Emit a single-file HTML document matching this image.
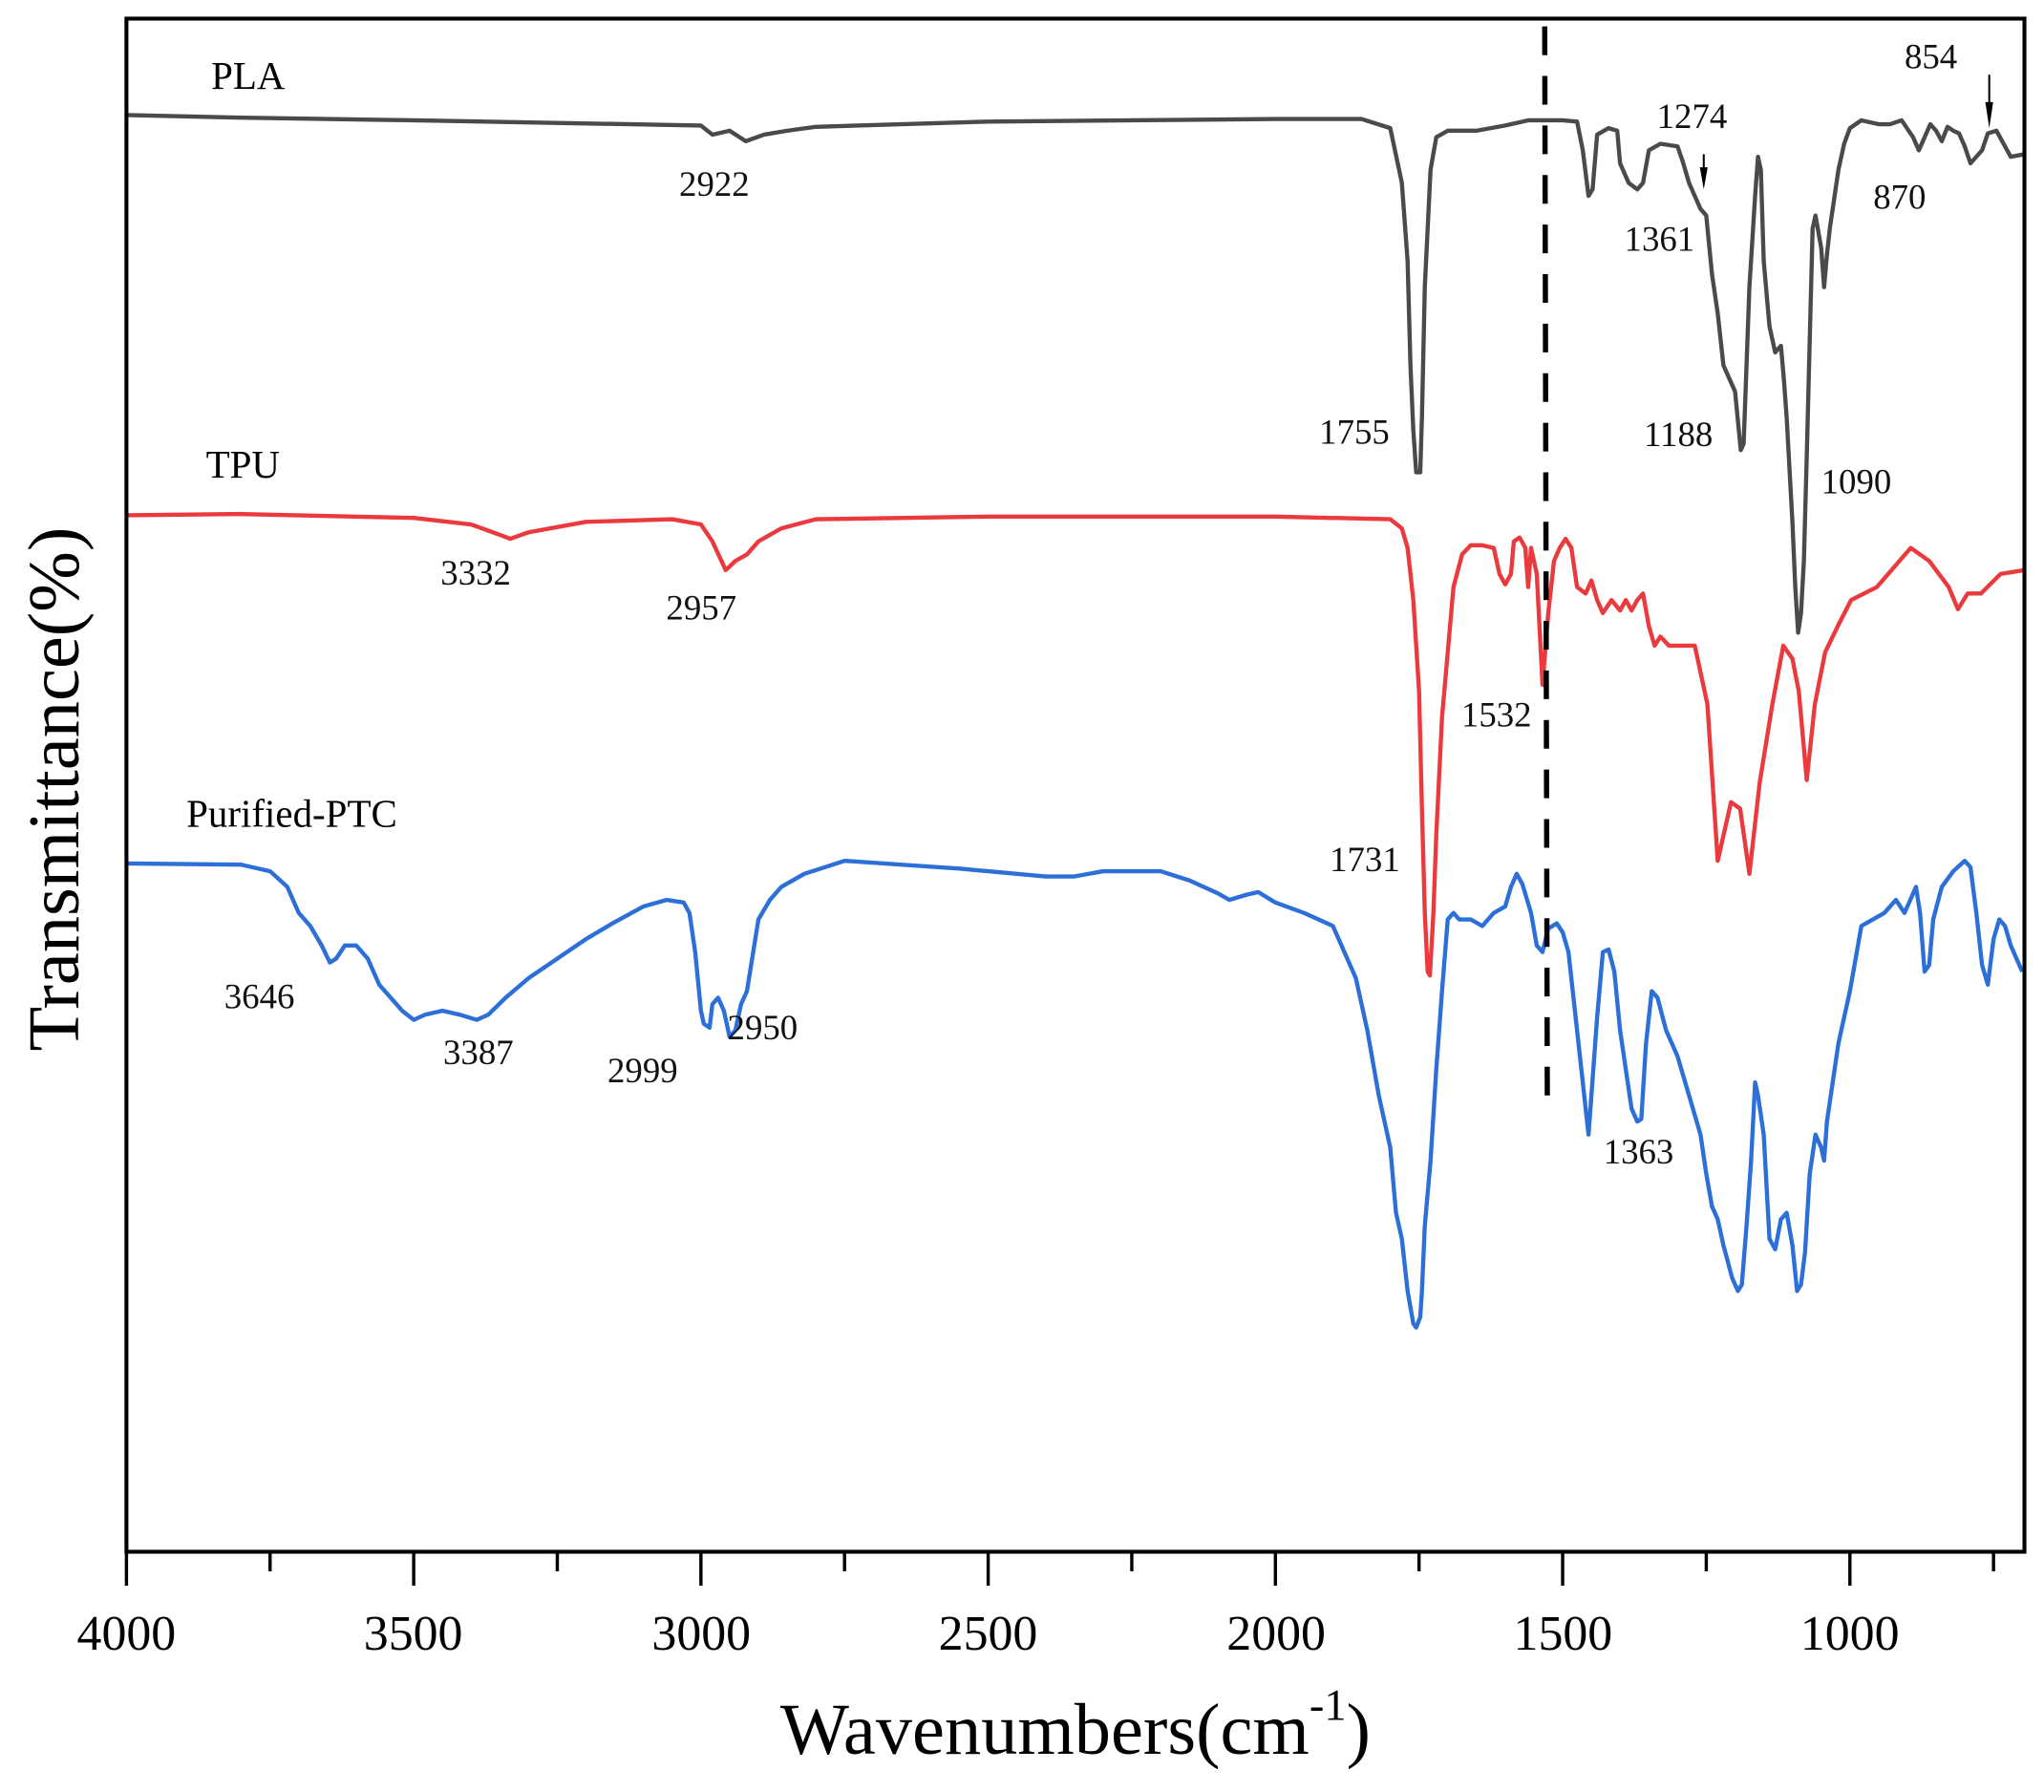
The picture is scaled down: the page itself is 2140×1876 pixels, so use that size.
<!DOCTYPE html>
<html><head><meta charset="utf-8"><style>html,body{margin:0;padding:0;background:#fff}svg{display:block}</style></head>
<body>
<svg id="s" width="2140" height="1876" viewBox="0 0 1568 1374" xmlns="http://www.w3.org/2000/svg" font-family="Liberation Serif, serif">
<rect x="0" y="0" width="1568" height="1374" fill="#fff"/>
<g id="curves" fill="none" stroke-width="3.2" stroke-linejoin="round"></g>
<line x1="1185" y1="20" x2="1187" y2="855" stroke="#000" stroke-width="4" stroke-dasharray="22,16"/>
<rect x="97" y="14" width="1456" height="1176" fill="none" stroke="#000" stroke-width="3"/>
<g id="ticks" stroke="#000" stroke-width="2.5"></g>
<g font-size="38" text-anchor="middle" fill="#000">
<text x="97" y="1265">4000</text><text x="317" y="1265">3500</text><text x="538" y="1265">3000</text><text x="758" y="1265">2500</text><text x="979" y="1265">2000</text><text x="1199" y="1265">1500</text><text x="1419" y="1265">1000</text>
</g>
<text x="825" y="1345" font-size="56" text-anchor="middle">Wavenumbers(cm<tspan font-size="34" dy="-26">-1</tspan><tspan dy="26">)</tspan></text>
<text transform="translate(60,605) rotate(-90)" font-size="56" text-anchor="middle">Transmittance(%)</text>
<g font-size="30" fill="#000">
<text x="162" y="68">PLA</text><text x="158" y="366">TPU</text><text x="143" y="634">Purified-PTC</text>
</g>
<g font-size="27" fill="#111">
<text x="521" y="150">2922</text><text x="1012" y="340">1755</text><text x="1271" y="98">1274</text>
<text x="1461" y="52">854</text><text x="1437" y="160">870</text><text x="1246" y="192">1361</text>
<text x="1261" y="342">1188</text><text x="1397" y="378">1090</text><text x="338" y="448">3332</text>
<text x="511" y="475">2957</text><text x="1121" y="557">1532</text><text x="1020" y="668">1731</text>
<text x="172" y="773">3646</text><text x="340" y="816">3387</text><text x="466" y="830">2999</text>
<text x="558" y="797">2950</text><text x="1230" y="892">1363</text>
</g>
<g stroke="#000" stroke-width="1.5"><line x1="1307" y1="118" x2="1307" y2="140"/><line x1="1526" y1="57" x2="1526" y2="88"/></g>
<polygon points="1304,128 1310,128 1307,145" fill="#000"/>
<polygon points="1523,78 1529,78 1526,98" fill="#000"/>
</svg>
<script>
function X(w){return 97+(4000-w)*0.4407;}
var pla=[4000,88,3800,90,3500,92,3000,96,2980,103,2950,100,2922,108,2890,103,2850,100,2800,97,2500,93,2000,91,1850,91,1800,98,1780,140,1770,200,1765,280,1760,330,1755,362,1748,362,1745,320,1740,220,1730,130,1720,105,1700,100,1650,100,1600,96,1560,92,1500,92,1475,93,1465,115,1455,150,1448,145,1440,103,1420,98,1405,100,1400,125,1385,140,1370,145,1360,140,1350,115,1330,110,1300,112,1290,125,1280,140,1270,150,1260,160,1250,165,1240,210,1230,240,1220,280,1200,300,1190,345,1185,340,1180,280,1175,220,1165,150,1160,120,1155,130,1150,200,1140,250,1130,270,1120,265,1115,290,1110,320,1100,400,1095,450,1090,485,1085,470,1080,430,1075,350,1070,260,1065,175,1060,165,1050,190,1045,220,1040,195,1035,175,1020,130,1010,110,1000,98,980,92,950,95,930,95,910,92,890,105,880,115,870,105,860,95,850,100,840,108,830,97,820,100,810,102,800,112,790,125,770,115,760,102,745,100,720,120,696,118];
var tpu=[4000,395,3800,394,3500,397,3400,402,3350,410,3332,413,3300,408,3200,400,3050,398,3000,402,2980,415,2957,437,2940,430,2920,425,2900,415,2860,405,2800,398,2500,396,2000,396,1800,398,1780,405,1770,420,1760,460,1750,530,1745,620,1740,700,1735,745,1731,748,1725,700,1720,640,1710,550,1700,500,1690,450,1675,425,1660,418,1640,418,1620,420,1610,440,1600,448,1590,440,1585,415,1575,412,1565,420,1560,450,1555,420,1545,440,1535,525,1525,470,1515,430,1505,420,1495,413,1485,420,1475,450,1460,455,1450,445,1440,460,1430,470,1415,460,1400,468,1390,460,1380,468,1370,460,1360,455,1350,480,1340,495,1330,488,1315,495,1290,495,1270,495,1248,540,1230,660,1207,615,1191,620,1175,670,1157,600,1135,540,1116,495,1100,505,1089,530,1075,598,1061,540,1043,500,1021,480,998,460,953,450,894,420,862,430,828,450,812,467,795,455,772,455,738,440,696,437];
var ptc=[4000,662,3800,663,3750,668,3720,680,3700,700,3680,710,3660,725,3646,738,3635,735,3620,725,3600,725,3580,735,3560,755,3540,765,3520,775,3500,782,3480,778,3450,775,3420,778,3390,782,3370,778,3340,765,3300,750,3250,735,3200,720,3150,707,3100,695,3060,690,3030,692,3020,700,3010,730,3000,775,2995,785,2985,788,2980,770,2970,765,2960,775,2950,795,2940,790,2930,770,2920,760,2900,705,2880,690,2860,680,2820,670,2750,660,2650,663,2550,666,2500,668,2400,672,2350,672,2300,668,2200,668,2150,675,2100,685,2080,690,2050,686,2030,684,2000,692,1950,700,1900,710,1860,750,1840,790,1820,840,1800,880,1790,930,1780,950,1770,990,1760,1015,1755,1018,1748,1010,1745,990,1740,940,1730,890,1720,820,1710,760,1700,705,1690,700,1680,705,1660,705,1640,710,1620,700,1600,695,1590,680,1580,670,1570,678,1555,700,1545,725,1535,730,1525,712,1510,708,1500,715,1490,730,1480,770,1470,810,1460,850,1455,870,1450,840,1440,780,1430,730,1420,728,1410,745,1400,790,1390,820,1380,850,1370,860,1363,858,1355,800,1345,760,1335,765,1320,790,1300,810,1280,840,1260,870,1250,900,1240,925,1230,935,1220,955,1205,980,1195,990,1188,985,1180,940,1172,890,1165,830,1160,840,1150,870,1140,950,1130,958,1120,935,1110,930,1100,955,1092,990,1085,985,1078,960,1070,900,1060,870,1050,880,1045,890,1040,860,1030,830,1020,800,1000,760,980,710,960,705,940,700,920,690,905,700,895,690,885,680,878,700,870,745,862,740,855,705,840,680,820,668,800,660,790,665,780,700,770,740,760,755,750,720,740,705,730,710,720,725,700,745];
var g=document.getElementById('curves'),ns='http://www.w3.org/2000/svg';
[[pla,'#4a4a4a'],[tpu,'#ea3a3d'],[ptc,'#2d6fd8']].forEach(function(s){var a=s[0],p=[];for(var i=0;i<a.length;i+=2)p.push(X(a[i]).toFixed(1)+','+a[i+1]);var e=document.createElementNS(ns,'polyline');e.setAttribute('points',p.join(' '));e.setAttribute('stroke',s[1]);g.appendChild(e);});
var t=document.getElementById('ticks');
for(var w=4000;w>=700;w-=250){var x=X(w),L=(w%500==0)?26:15;var l=document.createElementNS(ns,'line');l.setAttribute('x1',x);l.setAttribute('x2',x);l.setAttribute('y1',1190);l.setAttribute('y2',1190+L);t.appendChild(l);}
</script>
</body></html>
